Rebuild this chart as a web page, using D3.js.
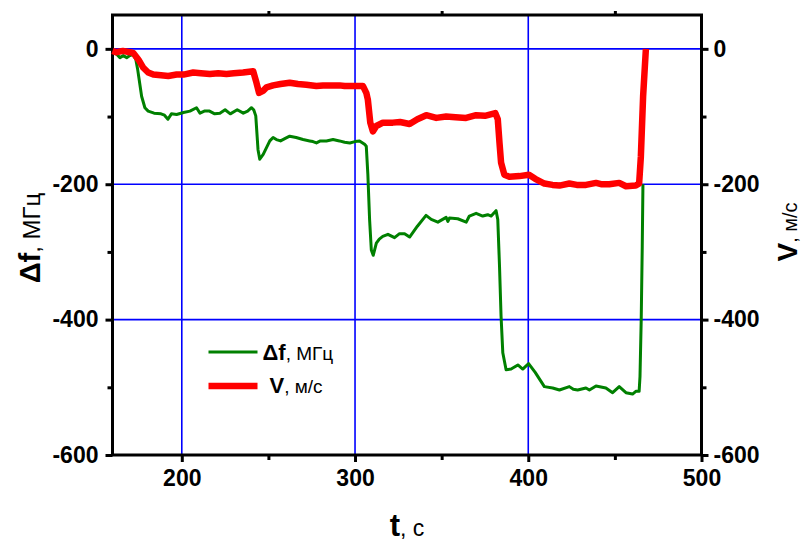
<!DOCTYPE html>
<html>
<head>
<meta charset="utf-8">
<script src="https://cdn.jsdelivr.net/npm/d3@7"></script>
<style>
  body { margin: 0; background: #fff; }
  svg { display: block; font-family: "Liberation Sans", Arial, sans-serif; }
  .tick text { font-weight: bold; font-size: 23px; fill: #000; }
</style>
</head>
<body>
<svg class="chart" width="807" height="544"></svg>
<script>
// delta f, MHz
var df_time = [160,162.4,164.3,166.2,168.2,170,172,173.5,174.5,176.8,178.7,180.6,184,188,190,192,194,197,201,204.7,
  208.5,210.5,213,216,219,222,225,228,232,235.5,238,240.2,241.5,242.7,244,245,247,250.8,252.7,254.6,
  257,260,262.3,266,270,273.8,275.7,277.7,280,283.5,287.3,291,294,297,300,302.6,305.5,306.5,307.4,308.4,
  309.4,310.5,312.3,314,316,319,322.8,325.7,328.6,331.5,336,341,344,347.8,352.6,353.6,354.5,359.3,364.2,366,
  369.9,373.7,376.6,378.6,381.4,382.4,383.4,384.3,385.3,387.2,390.1,394,396.8,400.2,404,409.3,414.1,418,423.7,426,
  428.5,433.3,435.3,439.1,444.8,448.7,452.5,456.4,460.2,462.1,464,464.5,465.2,465.8,466.2];
var df_value = [-5,-8,-13,-10,-13,-10,-8,-16,-30,-70,-87,-92,-95,-96,-98,-104,-96,-97,-94,-92,
  -87,-95,-92,-92,-96,-95,-90,-96,-90,-95,-92,-87,-90,-99,-149,-163,-156,-136,-131,-134,
  -136,-132,-129,-131,-134,-136,-137,-139,-136,-136,-134,-136,-138,-139,-137,-136,-141,-144,-185,-252,
  -297,-305,-287,-281,-277,-274,-279,-273,-273,-278,-262,-246,-252,-256,-249,-255,-250,-251,-256,-247,
  -243,-247,-245,-247,-239,-252,-321,-395,-449,-474,-473,-467,-473,-465,-478,-499,-501,-504,-499,-503,
  -504,-501,-504,-498,-501,-508,-499,-508,-510,-506,-506,-484,-400,-292,-200];

// V, m/s
var v_time = [160,162,166,170,172,175,177.8,180.6,183.6,188,192.2,197,201,206.6,211,216.2,221,225.8,230,235.4,
  241.2,243.1,244.6,246.9,248.9,252.7,257,262.3,267,271.9,277.7,281.5,287,291.1,294,298.8,304.6,306.5,307.4,308.8,
  310.3,312.3,316.1,321.8,326,331.5,336,341.1,346.9,352.6,358,364.1,369.9,375,381,382.4,383.4,384.3,386.2,389.1,
  394.9,400.4,404,409.3,414,418,423.7,428,433.3,439.1,442,446.8,452.5,456.4,462.1,464,465,466.3,467.9];
var v_value = [-3,-5,-3,-5,-6,-16,-28,-35,-38,-39,-40,-38,-38,-35,-36,-37,-36,-37,-36,-35,
  -33,-50,-65,-62,-57,-54,-52,-50,-52,-53,-55,-54,-54,-54,-55,-55,-55,-65,-75,-109,
  -122,-114,-109,-109,-108,-111,-104,-98,-102,-100,-101,-102,-98,-99,-95,-104,-139,-168,-186,-189,
  -188,-186,-192,-199,-201,-202,-199,-201,-201,-198,-200,-200,-198,-203,-202,-199,-159,-70,0];

var x_ticks = [200, 300, 400, 500];
var x_minor = [250, 350, 450];
var y_ticks = [0, -200, -400, -600];
var y_minor = [-100, -300, -500];

var margin = {left: 112.5, right: 105.5, top: 15, bottom: 89};
var width = 807 - margin.left - margin.right,
    height = 544 - margin.top - margin.bottom;

var x = d3.scaleLinear().domain([160, 500]).range([0, width]);
var y = d3.scaleLinear().domain([-600, 50]).range([height, 0]);

var fmt = function(d) { return String(d); }; // plain hyphen minus, as in the picture

var chart = d3.select(".chart").append("g")
    .attr("transform", "translate(" + margin.left + "," + margin.top + ")");

// grid
chart.selectAll(".vgrid").data([200, 300, 400]).enter().append("line")
    .attr("x1", function(d) { return x(d); }).attr("x2", function(d) { return x(d); })
    .attr("y1", 0).attr("y2", height)
    .attr("stroke", "#0000ff").attr("stroke-width", 1.6);
chart.selectAll(".hgrid").data([0, -200, -400]).enter().append("line")
    .attr("y1", function(d) { return y(d); }).attr("y2", function(d) { return y(d); })
    .attr("x1", 0).attr("x2", width)
    .attr("stroke", "#0000ff").attr("stroke-width", 1.6);

function style_axis(g) {
  g.select(".domain").remove();
  g.selectAll(".tick line").attr("stroke", "#000").attr("stroke-width", 3);
}

chart.append("g").attr("transform", "translate(0," + height + ")")
    .call(d3.axisBottom(x).tickValues(x_ticks).tickSize(7).tickPadding(8).tickFormat(fmt))
    .call(style_axis);
chart.append("g").attr("transform", "translate(0," + height + ")")
    .call(d3.axisBottom(x).tickValues(x_minor).tickSize(5).tickFormat(""))
    .call(style_axis);
chart.append("g")
    .call(d3.axisTop(x).tickValues(x_minor).tickSize(4).tickFormat(""))
    .call(style_axis);

chart.append("g")
    .call(d3.axisLeft(y).tickValues(y_ticks).tickSize(7).tickPadding(7).tickFormat(fmt))
    .call(style_axis);
chart.append("g")
    .call(d3.axisLeft(y).tickValues(y_minor).tickSize(5).tickFormat(""))
    .call(style_axis);
chart.append("g").attr("transform", "translate(" + width + ",0)")
    .call(d3.axisRight(y).tickValues(y_ticks).tickSize(7).tickPadding(5).tickFormat(fmt))
    .call(style_axis);
chart.append("g").attr("transform", "translate(" + width + ",0)")
    .call(d3.axisRight(y).tickValues(y_minor).tickSize(5).tickFormat(""))
    .call(style_axis);

// frame
chart.append("rect")
    .attr("width", width).attr("height", height)
    .attr("fill", "none").attr("stroke", "#000").attr("stroke-width", 3);

var line = d3.line()
    .x(function(d) { return x(d[0]); })
    .y(function(d) { return y(d[1]); });

chart.append("path")
    .datum(d3.zip(df_time, df_value))
    .attr("d", line)
    .attr("fill", "none").attr("stroke", "#008000").attr("stroke-width", 3)
    .attr("stroke-linejoin", "round");

chart.append("path")
    .datum(d3.zip(v_time, v_value))
    .attr("d", line)
    .attr("fill", "none").attr("stroke", "#ff0000").attr("stroke-width", 6.5)
    .attr("stroke-linejoin", "round");

// legend
var legend = chart.append("g");
legend.append("line").attr("x1", 96).attr("x2", 145).attr("y1", 337).attr("y2", 337)
    .attr("stroke", "#008000").attr("stroke-width", 3);
legend.append("line").attr("x1", 96).attr("x2", 145).attr("y1", 371).attr("y2", 371)
    .attr("stroke", "#ff0000").attr("stroke-width", 6.5);
var t1 = legend.append("text").attr("x", 150).attr("y", 345);
t1.append("tspan").attr("font-weight", "bold").attr("font-size", 22).text("Δf");
t1.append("tspan").attr("font-size", 19).text(", МГц");
var t2 = legend.append("text").attr("x", 157).attr("y", 378);
t2.append("tspan").attr("font-weight", "bold").attr("font-size", 22).text("V");
t2.append("tspan").attr("font-size", 19).text(", м/с");

// axis titles
var svg = d3.select(".chart");
var xt = svg.append("text").attr("x", 407).attr("y", 536).attr("text-anchor", "middle");
xt.append("tspan").attr("font-weight", "bold").attr("font-size", 31).text("t");
xt.append("tspan").attr("font-size", 23).text(", с");

var yl = svg.append("text").attr("transform", "translate(40,238) rotate(-90)").attr("text-anchor", "middle");
yl.append("tspan").attr("font-weight", "bold").attr("font-size", 29).text("Δf");
yl.append("tspan").attr("font-size", 24).text(", МГц");

var yr = svg.append("text").attr("transform", "translate(797,232) rotate(-90)").attr("text-anchor", "middle");
yr.append("tspan").attr("font-weight", "bold").attr("font-size", 28).text("V");
yr.append("tspan").attr("font-size", 20).text(", м/с");
</script>
</body>
</html>
